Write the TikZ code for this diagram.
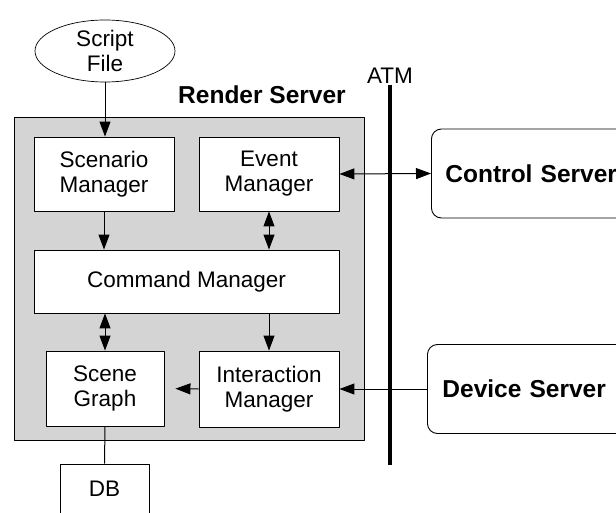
\documentclass[tikz,border=0pt]{standalone}
\usepackage{fontspec}
\setmainfont{Liberation Sans}
\usetikzlibrary{arrows.meta,shapes.geometric}
\definecolor{srvgray}{RGB}{212,212,212}

\begin{document}
\begin{tikzpicture}[x=1pt,y=-1pt,>={Triangle[length=15pt,width=11pt]},
    line join=round,font=\fontsize{22.5}{25}\selectfont,
    wire@/.style={line width=1pt},
    mgr@/.style={draw,fill=white,line width=.9pt,align=center,inner sep=0pt},
    srv@/.style={draw,rounded corners=10pt,line width=.9pt,anchor=west,
      align=left,text width=200pt,minimum height=89pt,
      font=\fontsize{24.5}{28}\selectfont\bfseries}]
    \useasboundingbox (0,0) rectangle (616,513);

    % The script file and the render server.
    \node[draw,ellipse,line width=.7pt,minimum width=140pt,minimum height=62pt,
      inner sep=0pt,align=center] (script) at (105,51) {Script\\File};
    \node[font=\fontsize{24.5}{28}\selectfont\bfseries] (rslabel) at (262,95)
      {Render Server};
    \node[draw,fill=srvgray,line width=.9pt,minimum width=350pt,
      minimum height=323pt,inner sep=0pt] (rs) at (189,278.5) {};

    % Managers inside the server.
    \node[mgr@,minimum width=140pt,minimum height=74pt] (scen) at (104,174)
      {Scenario\\Manager};
    \node[mgr@,minimum width=140pt,minimum height=74pt] (event) at (269,174)
      {Event\\Manager};
    \node[mgr@,minimum width=305pt,minimum height=63pt] (cmd) at (186.5,281.5)
      {Command Manager};
    \node[mgr@,minimum width=118pt,minimum height=75pt] (scene) at (105,388.5)
      {Scene\\Graph};
    \node[mgr@,minimum width=140pt,minimum height=76pt] (inter) at (269,389)
      {Interaction\\Manager};
    \node[mgr@,minimum width=89pt,minimum height=50pt] (db) at (104.5,489) {DB};

    % The ATM line and the outer servers.
    \coordinate (atmtop) at (390,85);
    \coordinate (atmbot) at (390,465);
    \draw[line width=3.5pt] (atmtop) -- (atmbot);
    \node[anchor=south,inner sep=1pt] (atm) at (atmtop) {ATM};
    \node[srv@,inner xsep=14pt] (ctrl) at (431,173.5) {Control Server};
    \node[srv@,inner xsep=15pt] (dev) at (427,389) {Device Server};

    % Connections.
    \draw[wire@,->] (script.south) -- (script.south |- scen.north);
    \draw[wire@,->] (scen.south) -- (scen.south |- cmd.north);
    \draw[wire@,<->] (event.south) -- (event.south |- cmd.north);
    \draw[wire@,<->] (scene.north |- cmd.south) -- (scene.north);
    \draw[wire@,->] (inter.north |- cmd.south) -- (inter.north);
    \draw[wire@,->,shorten >=11pt] (inter.west) -- (scene.east);
    \draw[wire@,<->] (event.east) -- (ctrl.west);
    \draw[wire@,->] (dev.west) -- (inter.east);
    \draw[wire@] (scene.south) -- (db.north);
  \end{tikzpicture}
\end{document}
